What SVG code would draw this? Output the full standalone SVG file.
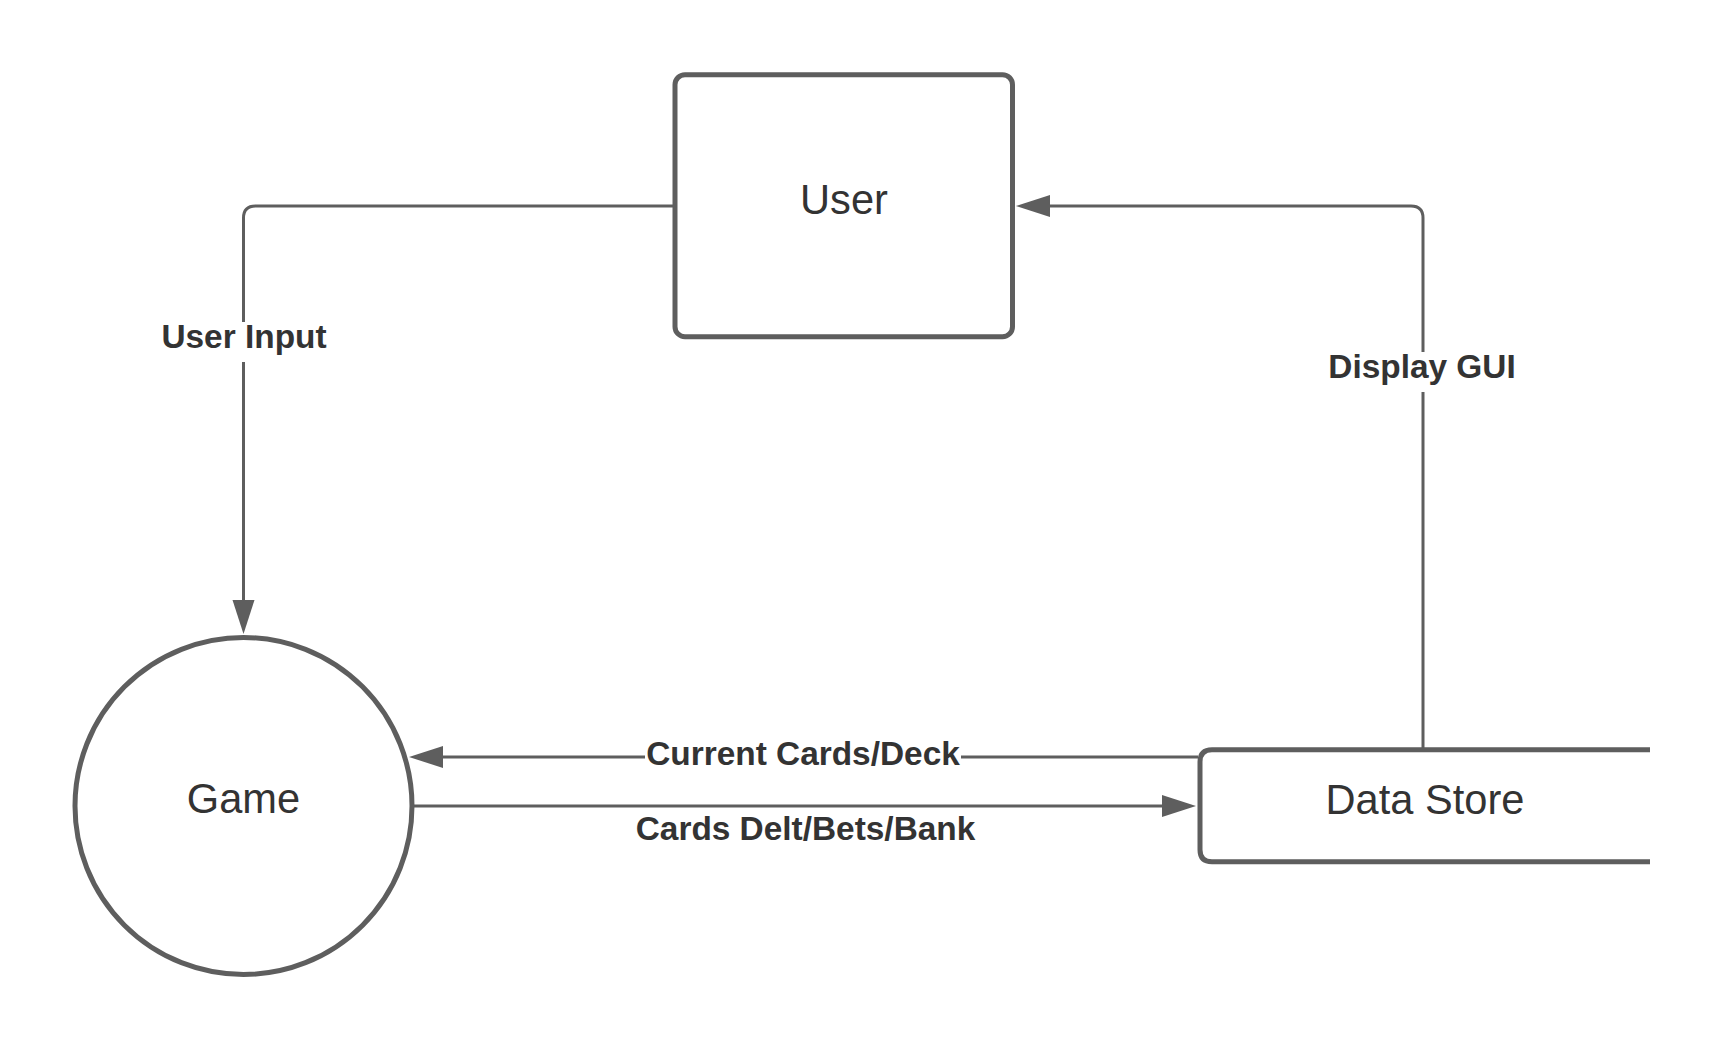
<svg xmlns="http://www.w3.org/2000/svg" width="1725" height="1050" viewBox="0 0 1725 1050">
  <style>
    .shape { fill: #ffffff; stroke: #5e5e5e; stroke-width: 5; }
    .conn { fill: none; stroke: #5e5e5e; stroke-width: 3; }
    .node-text { font-family: "Liberation Sans", Arial, sans-serif; font-size: 41.6px; fill: #333333; text-anchor: middle; }
    .label { font-family: "Liberation Sans", Arial, sans-serif; font-size: 33.4px; font-weight: bold; fill: #333333; text-anchor: middle; }
    .label-bg { fill: #ffffff; }
  </style>
  <defs>
    <marker id="arrow" markerUnits="userSpaceOnUse" markerWidth="34" markerHeight="22" refX="0" refY="11" orient="auto" overflow="visible">
      <path d="M0,0 L34,11 L0,22 Z" fill="#5e5e5e"/>
    </marker>
  </defs>
  <rect width="1725" height="1050" fill="#ffffff"/>

  <g id="connectors">
    <g id="conn-user-input">
      <path class="conn" d="M675,206 H255.5 Q243.5,206 243.5,218 V600" marker-end="url(#arrow)"/>
      <rect class="label-bg" x="158" y="322" width="172" height="40"/>
      <text class="label" x="244" y="348">User Input</text>
    </g>
    <g id="conn-display-gui">
      <path class="conn" d="M1423,749 V218 Q1423,206 1411,206 H1050" marker-end="url(#arrow)"/>
      <rect class="label-bg" x="1326" y="352" width="192" height="40"/>
      <text class="label" x="1422" y="378">Display GUI</text>
    </g>
    <g id="conn-current-cards">
      <path class="conn" d="M1198,757 H443" marker-end="url(#arrow)"/>
      <rect class="label-bg" x="645" y="739" width="316" height="40"/>
      <text class="label" x="803" y="765">Current Cards/Deck</text>
    </g>
    <g id="conn-cards-delt">
      <path class="conn" d="M414,806 H1162" marker-end="url(#arrow)"/>
      <text class="label" x="805.5" y="840">Cards Delt/Bets/Bank</text>
    </g>
  </g>

  <g id="node-user">
    <rect class="shape" x="675" y="74.7" width="337.5" height="262" rx="10" ry="10"/>
    <text class="node-text" x="844" y="214">User</text>
  </g>

  <g id="node-game">
    <circle class="shape" cx="243.5" cy="806" r="168.5"/>
    <text class="node-text" x="243.5" y="813">Game</text>
  </g>

  <g id="node-data-store">
    <path class="shape" d="M1650,749.8 H1212 Q1200,749.8 1200,761.8 V849.8 Q1200,861.8 1212,861.8 H1650"/>
    <text class="node-text" x="1425" y="814">Data Store</text>
  </g>
</svg>
